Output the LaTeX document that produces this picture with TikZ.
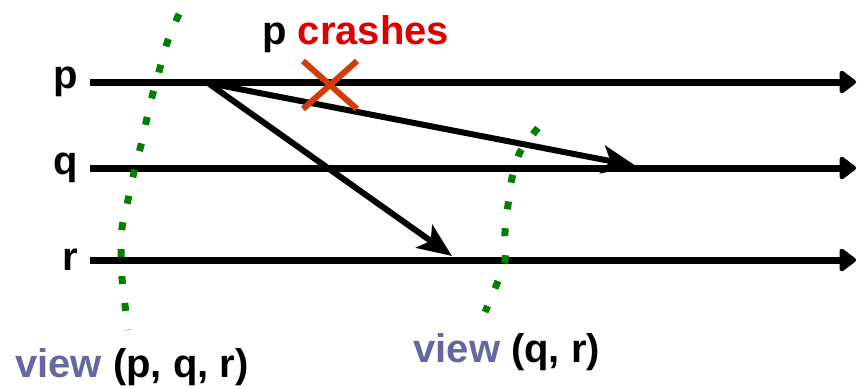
\documentclass[tikz,border=0pt]{standalone}
\usepackage{fontspec}
\setmainfont{Liberation Sans}
\usepackage{tikz}
\usetikzlibrary{arrows.meta,positioning,calc}
\definecolor{crashred}{HTML}{DD0000}
\definecolor{crossred}{HTML}{D23C0A}
\definecolor{viewblue}{HTML}{6666A0}
\definecolor{cutgreen}{HTML}{007F00}

\begin{document}
\begin{tikzpicture}[x=0.5pt, y=-0.5pt,
    proc/.style={line width=3.5pt, -{Triangle[round, length=9pt, width=13pt]}},
    msg/.style={line width=3pt, -{Stealth[length=17pt, width=14pt, inset=4pt]}},
    cut/.style={cutgreen, line width=3.5pt, dash pattern=on 4pt off 9.5pt},
    lbl/.style={font=\bfseries\fontsize{20}{24}\selectfont, inner sep=0pt}]
  \useasboundingbox (0,0) rectangle (857,388);
  % process lines
  \foreach \n/\y in {p/82, q/168, r/260}{
    \node[lbl, anchor=east] (lab\n) at (78,\y) {\n};
    \coordinate (\n0) at (90,\y);
    \coordinate (\n1) at (856,\y);
    \draw[proc] (\n0) -- (\n1);}
  % messages sent by p before it crashes
  \coordinate (send) at (208,83);
  \coordinate (recvq) at (636,166);
  \coordinate (recvr) at (452,256);
  \draw[msg] (send) -- (recvq);
  \draw[msg] (send) -- (recvr);
  % crash of p
  \coordinate (crash) at (330,85);
  \draw[crossred, line width=3pt] ($(crash)+(-27,-24)$) -- ($(crash)+(27,24)$);
  \draw[crossred, line width=3pt] ($(crash)+(27,-24)$) -- ($(crash)+(-27,24)$);
  \node[lbl, anchor=base west] (crashlab) at (262,44) {p \textcolor{crashred}{crashes}};
  % view changes
  \draw[cut] plot[smooth] coordinates {(179,14) (168,40) (160,68) (153,93) (147,118)
    (141,145) (134,172) (128,200) (122,228) (121,255) (122,278) (125,305) (128,330)};
  \draw[cut] plot[smooth] coordinates {(538,128) (520,152) (512,178) (508,205)
    (505,232) (505,260) (496,286) (485,312)};
  \node[lbl, anchor=base west] (view1) at (15,377)
    {\textcolor{viewblue}{view} (p, q, r)};
  \node[lbl, anchor=base west] (view2) at (413,362)
    {\textcolor{viewblue}{view} (q, r)};
\end{tikzpicture}
\end{document}
